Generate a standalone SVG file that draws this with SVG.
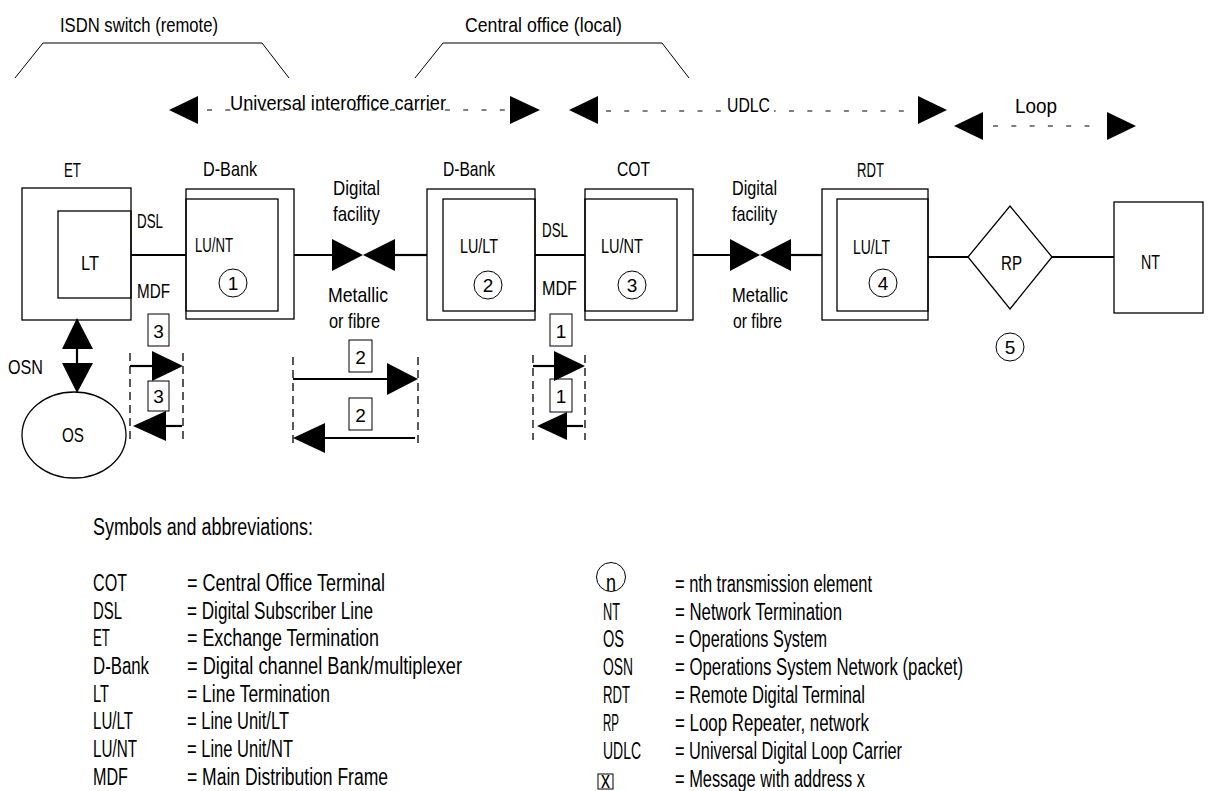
<svg xmlns="http://www.w3.org/2000/svg" width="1216" height="791" viewBox="0 0 1216 791">
<style>
text{font-family:"Liberation Sans",Arial,sans-serif;fill:#000}
.t{font-size:21px}
.lg{font-size:23px}
.num{font-size:19px;text-anchor:middle}
.box{fill:none;stroke:#000;stroke-width:1.3}
.thin{fill:none;stroke:#000;stroke-width:1}
.wire{stroke:#000;stroke-width:2.2;fill:none}
.dash{stroke:#000;stroke-width:1;stroke-dasharray:5 13.3;fill:none}
.vd{stroke:#000;stroke-width:1.3;stroke-dasharray:8 5;fill:none}
.ah{fill:#000;stroke:none}
</style>
<rect width="1216" height="791" fill="#fff"/>

<g id="brackets">
<polyline class="thin" points="15,78 43,43 262,43 289,78"/>
<text class="t" x="60" y="32" textLength="158" lengthAdjust="spacingAndGlyphs">ISDN switch (remote)</text>
<polyline class="thin" points="415,78 443,43 662,43 689,78"/>
<text class="t" x="465" y="32" textLength="157" lengthAdjust="spacingAndGlyphs">Central office (local)</text>
</g>

<g id="spans">
<line class="dash" x1="207" y1="110" x2="510" y2="110"/>
<text class="t" x="230" y="110" textLength="216" lengthAdjust="spacingAndGlyphs">Universal interoffice carrier</text>
<polygon class="ah" points="169,110 198,96 198,124"/>
<polygon class="ah" points="540,110 510,96 510,124"/>
<line class="dash" x1="606" y1="111" x2="912" y2="111"/>
<rect x="722" y="92" width="52" height="24" fill="#fff"/>
<text class="t" x="727" y="112" textLength="43" lengthAdjust="spacingAndGlyphs">UDLC</text>
<polygon class="ah" points="569,110 598,96 598,124"/>
<polygon class="ah" points="947,110 918,96 918,124"/>
<line class="dash" x1="993" y1="126" x2="1102" y2="126"/>
<text class="t" x="1015" y="113" textLength="42" lengthAdjust="spacingAndGlyphs">Loop</text>
<polygon class="ah" points="954,126 983,112 983,140"/>
<polygon class="ah" points="1136,126 1107,112 1107,140"/>
</g>

<g id="connectors">
<line class="wire" x1="131" y1="255" x2="186" y2="255"/>
<line class="wire" x1="294" y1="255" x2="332" y2="255"/>
<polygon class="ah" points="332,239 332,271 363,255"/>
<polygon class="ah" points="395,239 395,271 363,255"/>
<line class="wire" x1="395" y1="255" x2="427" y2="255"/>
<line class="wire" x1="535" y1="255" x2="585" y2="255"/>
<line class="wire" x1="693" y1="255" x2="730" y2="255"/>
<polygon class="ah" points="730,239 730,271 760,255"/>
<polygon class="ah" points="791,239 791,271 760,255"/>
<line class="wire" x1="791" y1="255" x2="822" y2="255"/>
<line class="wire" x1="928" y1="257" x2="968" y2="257"/>
<line class="wire" x1="1052" y1="257" x2="1114" y2="257"/>
<polygon class="ah" points="77,318 62,349 93,349"/>
<line class="wire" x1="77" y1="348" x2="77" y2="364" stroke-width="3"/>
<polygon class="ah" points="62,363 93,363 77,393"/>
</g>

<g id="labels">
<text class="t" x="137" y="228" textLength="26" lengthAdjust="spacingAndGlyphs">DSL</text>
<text class="t" x="137" y="298" textLength="33" lengthAdjust="spacingAndGlyphs">MDF</text>
<text class="t" x="333" y="195" textLength="47" lengthAdjust="spacingAndGlyphs">Digital</text>
<text class="t" x="333" y="221" textLength="47" lengthAdjust="spacingAndGlyphs">facility</text>
<text class="t" x="328" y="302" textLength="60" lengthAdjust="spacingAndGlyphs">Metallic</text>
<text class="t" x="329" y="328" textLength="51" lengthAdjust="spacingAndGlyphs">or fibre</text>
<text class="t" x="542" y="237" textLength="26" lengthAdjust="spacingAndGlyphs">DSL</text>
<text class="t" x="542" y="295" textLength="35" lengthAdjust="spacingAndGlyphs">MDF</text>
<text class="t" x="732" y="195" textLength="45" lengthAdjust="spacingAndGlyphs">Digital</text>
<text class="t" x="732" y="221" textLength="45" lengthAdjust="spacingAndGlyphs">facility</text>
<text class="t" x="732" y="302" textLength="56" lengthAdjust="spacingAndGlyphs">Metallic</text>
<text class="t" x="733" y="328" textLength="49" lengthAdjust="spacingAndGlyphs">or fibre</text>
<text class="t" x="8" y="374" textLength="35" lengthAdjust="spacingAndGlyphs">OSN</text>
<circle class="thin" cx="1010" cy="347" r="14"/>
<text class="num" x="1010" y="354">5</text>
</g>

<g id="ET">
<rect class="box" x="22" y="188" width="109" height="132"/>
<rect class="box" x="58" y="211" width="73" height="87"/>
<text class="t" x="64" y="177" textLength="17" lengthAdjust="spacingAndGlyphs">ET</text>
<text class="t" x="81" y="270" textLength="18" lengthAdjust="spacingAndGlyphs">LT</text>
</g>

<g id="DBank1">
<rect class="box" x="186" y="189" width="108" height="130"/>
<rect class="box" x="186" y="199" width="92" height="112"/>
<text class="t" x="203" y="176" textLength="54" lengthAdjust="spacingAndGlyphs">D-Bank</text>
<text class="t" x="195" y="252" textLength="38" lengthAdjust="spacingAndGlyphs">LU/NT</text>
<circle class="thin" cx="233" cy="283" r="14"/>
<text class="num" x="233" y="290">1</text>
</g>

<g id="DBank2">
<rect class="box" x="427" y="189" width="108" height="131"/>
<rect class="box" x="443" y="199" width="92" height="112"/>
<text class="t" x="443" y="176" textLength="52" lengthAdjust="spacingAndGlyphs">D-Bank</text>
<text class="t" x="460" y="253" textLength="38" lengthAdjust="spacingAndGlyphs">LU/LT</text>
<circle class="thin" cx="488" cy="285" r="14"/>
<text class="num" x="488" y="292">2</text>
</g>

<g id="COT">
<rect class="box" x="585" y="189" width="108" height="131"/>
<rect class="box" x="585" y="199" width="92" height="112"/>
<text class="t" x="617" y="176" textLength="33" lengthAdjust="spacingAndGlyphs">COT</text>
<text class="t" x="601" y="253" textLength="42" lengthAdjust="spacingAndGlyphs">LU/NT</text>
<circle class="thin" cx="632" cy="285" r="14"/>
<text class="num" x="632" y="292">3</text>
</g>

<g id="RDT">
<rect class="box" x="822" y="189" width="106" height="131"/>
<rect class="box" x="837" y="199" width="91" height="112"/>
<text class="t" x="857" y="177" textLength="27" lengthAdjust="spacingAndGlyphs">RDT</text>
<text class="t" x="853" y="254" textLength="37" lengthAdjust="spacingAndGlyphs">LU/LT</text>
<circle class="thin" cx="883" cy="283" r="14"/>
<text class="num" x="883" y="290">4</text>
</g>

<g id="RP">
<polygon class="box" points="968,257 1010,206 1052,257 1010,309"/>
<text class="t" x="1001" y="270" textLength="21" lengthAdjust="spacingAndGlyphs">RP</text>
</g>

<g id="NT">
<rect class="box" x="1114" y="202" width="89" height="111"/>
<text class="t" x="1141" y="269" textLength="19" lengthAdjust="spacingAndGlyphs">NT</text>
</g>

<g id="OS">
<ellipse class="box" cx="74" cy="435" rx="52" ry="43"/>
<text class="t" x="62" y="442" textLength="22" lengthAdjust="spacingAndGlyphs">OS</text>
</g>

<g id="msg3">
<line class="vd" x1="130" y1="353" x2="130" y2="440"/>
<line class="vd" x1="183" y1="353" x2="183" y2="440"/>
<rect class="thin" x="148" y="314" width="21" height="32"/>
<text class="num" x="158.5" y="338">3</text>
<line class="wire" x1="130" y1="366" x2="153" y2="366"/>
<polygon class="ah" points="152,351 152,381 183,366"/>
<rect class="thin" x="148" y="381" width="21" height="30"/>
<text class="num" x="158.5" y="403">3</text>
<polygon class="ah" points="133,426 166,411 166,441"/>
<line class="wire" x1="165" y1="426" x2="182" y2="426"/>
</g>

<g id="msg2">
<line class="vd" x1="293" y1="357" x2="293" y2="446"/>
<line class="vd" x1="418" y1="357" x2="418" y2="446"/>
<rect class="thin" x="349" y="340" width="23" height="32"/>
<text class="num" x="360.5" y="364">2</text>
<line class="wire" x1="293" y1="379" x2="388" y2="379"/>
<polygon class="ah" points="387,363 387,395 418,379"/>
<rect class="thin" x="349" y="398" width="23" height="32"/>
<text class="num" x="360.5" y="422">2</text>
<polygon class="ah" points="293,438 325,423 325,453"/>
<line class="wire" x1="324" y1="438" x2="415" y2="438"/>
</g>

<g id="msg1">
<line class="vd" x1="533" y1="355" x2="533" y2="440"/>
<line class="vd" x1="585" y1="355" x2="585" y2="440"/>
<rect class="thin" x="550" y="314" width="22" height="32"/>
<text class="num" x="561" y="338">1</text>
<line class="wire" x1="533" y1="366" x2="555" y2="366"/>
<polygon class="ah" points="554,351 554,381 585,366"/>
<rect class="thin" x="550" y="379" width="22" height="33"/>
<text class="num" x="561" y="403">1</text>
<polygon class="ah" points="537,426 567,412 567,440"/>
<line class="wire" x1="566" y1="426" x2="583" y2="426"/>
</g>

<g id="legend">
<text class="lg" x="93" y="535" textLength="220" lengthAdjust="spacingAndGlyphs">Symbols and abbreviations:</text>
<text class="lg" x="93" y="591" textLength="34" lengthAdjust="spacingAndGlyphs">COT</text>
<text class="lg" x="187" y="591" textLength="198" lengthAdjust="spacingAndGlyphs">= Central Office Terminal</text>
<text class="lg" x="93" y="618.5" textLength="29" lengthAdjust="spacingAndGlyphs">DSL</text>
<text class="lg" x="187" y="618.5" textLength="186" lengthAdjust="spacingAndGlyphs">= Digital Subscriber Line</text>
<text class="lg" x="93" y="646" textLength="17" lengthAdjust="spacingAndGlyphs">ET</text>
<text class="lg" x="187" y="646" textLength="192" lengthAdjust="spacingAndGlyphs">= Exchange Termination</text>
<text class="lg" x="93" y="673.5" textLength="56" lengthAdjust="spacingAndGlyphs">D-Bank</text>
<text class="lg" x="187" y="673.5" textLength="275" lengthAdjust="spacingAndGlyphs">= Digital channel Bank/multiplexer</text>
<text class="lg" x="93" y="701.5" textLength="16" lengthAdjust="spacingAndGlyphs">LT</text>
<text class="lg" x="187" y="701.5" textLength="143" lengthAdjust="spacingAndGlyphs">= Line Termination</text>
<text class="lg" x="93" y="729" textLength="40" lengthAdjust="spacingAndGlyphs">LU/LT</text>
<text class="lg" x="187" y="729" textLength="102" lengthAdjust="spacingAndGlyphs">= Line Unit/LT</text>
<text class="lg" x="93" y="757" textLength="44" lengthAdjust="spacingAndGlyphs">LU/NT</text>
<text class="lg" x="187" y="757" textLength="106" lengthAdjust="spacingAndGlyphs">= Line Unit/NT</text>
<text class="lg" x="93" y="785" textLength="35" lengthAdjust="spacingAndGlyphs">MDF</text>
<text class="lg" x="187" y="785" textLength="201" lengthAdjust="spacingAndGlyphs">= Main Distribution Frame</text>

<circle class="thin" cx="611" cy="577" r="14.5"/>
<text class="lg" x="606" y="591" font-size="17" textLength="10" lengthAdjust="spacingAndGlyphs">n</text>
<text class="lg" x="675" y="592" textLength="197" lengthAdjust="spacingAndGlyphs">= nth transmission element</text>
<text class="lg" x="603" y="619.5" textLength="17" lengthAdjust="spacingAndGlyphs">NT</text>
<text class="lg" x="675" y="619.5" textLength="167" lengthAdjust="spacingAndGlyphs">= Network Termination</text>
<text class="lg" x="603" y="647" textLength="21" lengthAdjust="spacingAndGlyphs">OS</text>
<text class="lg" x="675" y="647" textLength="152" lengthAdjust="spacingAndGlyphs">= Operations System</text>
<text class="lg" x="603" y="675" textLength="30" lengthAdjust="spacingAndGlyphs">OSN</text>
<text class="lg" x="675" y="675" textLength="288" lengthAdjust="spacingAndGlyphs">= Operations System Network (packet)</text>
<text class="lg" x="603" y="703" textLength="27" lengthAdjust="spacingAndGlyphs">RDT</text>
<text class="lg" x="675" y="703" textLength="190" lengthAdjust="spacingAndGlyphs">= Remote Digital Terminal</text>
<text class="lg" x="603" y="731" textLength="16" lengthAdjust="spacingAndGlyphs">RP</text>
<text class="lg" x="675" y="731" textLength="194" lengthAdjust="spacingAndGlyphs">= Loop Repeater, network</text>
<text class="lg" x="603" y="758.5" textLength="38" lengthAdjust="spacingAndGlyphs">UDLC</text>
<text class="lg" x="675" y="758.5" textLength="227" lengthAdjust="spacingAndGlyphs">= Universal Digital Loop Carrier</text>
<rect class="thin" x="598" y="774" width="15" height="15"/>
<text class="lg" x="601" y="788" font-size="16" textLength="9" lengthAdjust="spacingAndGlyphs">x</text>
<text class="lg" x="675" y="787" textLength="190" lengthAdjust="spacingAndGlyphs">= Message with address x</text>
</g>
</svg>
